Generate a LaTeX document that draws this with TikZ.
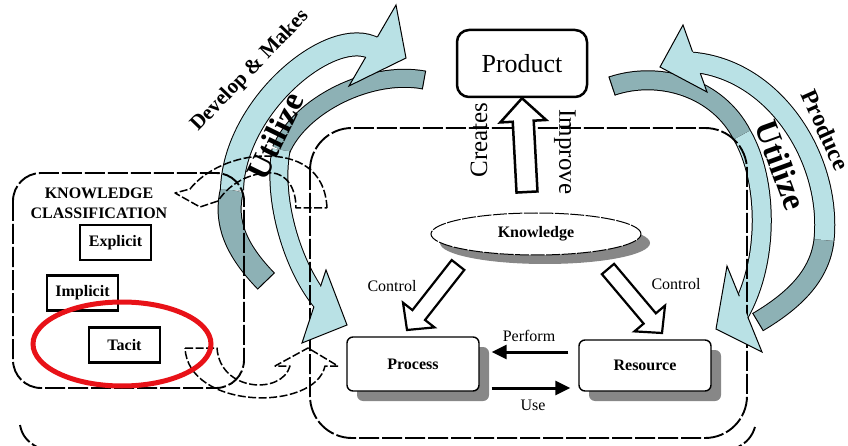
\documentclass[tikz,border=0pt]{standalone}
\usepackage{fontspec}
\setmainfont{Liberation Serif}
\usetikzlibrary{calc,arrows.meta,shapes.geometric,shadows}

\definecolor{bandlight}{RGB}{185,225,229}
\definecolor{banddark}{RGB}{141,177,181}
\definecolor{shade}{RGB}{135,135,135}
\definecolor{ring}{RGB}{232,18,24}

% hollow block arrow from #2 to its tip #3;
% #4 half shaft width, #5 half head width, #6 head length (pt)
\newcommand{\blockarrow}[6][]{%
  \draw[#1] let \p1=($(#3)-(#2)$), \n1={atan2(\y1,\x1)}, \n2={veclen(\x1,\y1)} in
    [shift={(#2)}, rotate=\n1]
    (0pt,-#4pt) -- ({\n2-#6pt},-#4pt) -- ({\n2-#6pt},-#5pt) -- ({\n2+0pt},0pt)
    -- ({\n2-#6pt},#5pt) -- ({\n2-#6pt},#4pt) -- (0pt,#4pt) -- cycle;
}

\begin{document}
\begin{tikzpicture}[x=1pt,y=-1pt,
  region/.style={draw, line width=1.9pt, dash pattern=on 20pt off 3pt},
  link/.style={draw, line width=1.5pt, dash pattern=on 8pt off 2.5pt, line join=round},
  lightband/.style={draw=black, line width=1pt, double=bandlight, double distance=#1, line cap=butt},
  darkband/.style={draw=black, line width=1pt, double=banddark, double distance=#1, line cap=butt},
  headline/.style={draw=black, line width=1pt, line join=miter},
  bandend/.style={draw=black, line width=1pt},
  classbox/.style={draw, line width=2.2pt, minimum width=71pt, minimum height=35pt,
    inner sep=0pt, font=\fontsize{16}{18}\selectfont\bfseries},
  unit/.style={draw, line width=1.4pt, rounded corners=6pt, fill=white, minimum width=132pt,
    inner sep=0pt, font=\fontsize{16}{18}\selectfont\bfseries,
    drop shadow={shadow xshift=10pt, shadow yshift=-10pt, fill=shade, opacity=1}},
  label/.style={font=\fontsize{16}{18}\selectfont},
  hollow/.style={draw, fill=white, line width=2.2pt, line join=miter},
  flow/.style={line width=3pt, -{Triangle[length=15pt,width=14pt]}},
  bigword/.style={font=\fontsize{33}{36}\selectfont\bfseries},
  arcword/.style={font=\fontsize{21}{24}\selectfont\bfseries},
]
\useasboundingbox (0,0) rectangle (848,446);
\clip (0,0) rectangle (848,446);

% ---- curved band arrows: bodies ----
% left: develop & makes (tail low, head top)
\draw[darkband=22pt] (266,281) .. controls (236,250) and (224,222) .. (232,190);
\draw[lightband=22pt] (232,190) .. controls (234,105) and (333,24) .. (375,49);
\draw[bandend] (274.6,272.7) -- (257.4,289.3);
% left: utilize (tail top, head low)
\draw[darkband=17pt] (424,80) .. controls (370,70) and (300,105) .. (281,150);
\draw[lightband=17pt] (281,150) .. controls (272,200) and (293,268) .. (322,302.5);
\draw[bandend] (425.7,70.7) -- (422.3,89.3);
% right: utilize (tail top, head low)
\draw[darkband=18pt] (612,86) .. controls (660,70) and (718,88) .. (742,135);
\draw[lightband=18pt] (742,135) .. controls (768,180) and (770,262) .. (738,316);
\draw[bandend] (615.2,95.5) -- (608.8,76.5);
% right: produce (tail low, head top)
\draw[darkband=19pt] (758,322) .. controls (795,300) and (820,275) .. (824,240);
\draw[lightband=19pt] (824,240) .. controls (832,160) and (775,68) .. (690,62);
\draw[bandend] (763.4,331) -- (752.6,313);

% ---- dashed regions ----
\draw[region, rounded corners=28pt] (13,173) rectangle (244,388);
\draw[region, rounded corners=42pt] (310,128) rectangle (747,438);
\draw[region] (20,425) .. controls (22,436) and (28,442) .. (37,447);
\draw[region] (755,427) .. controls (752,437) and (746,443) .. (738,447);

% ---- dashed curved links between the two regions ----
\draw[link] (327,208) .. controls (325,168) and (296,156) .. (266,156)
  .. controls (235,156) and (205,170) .. (190,189) -- (175,193) -- (200,207) -- (218,201)
  .. controls (232,180) and (255,172) .. (272,173)
  .. controls (288,174) and (296,190) .. (296,208) -- cycle;
\draw[link] (185,348) -- (217,348) .. controls (220,392) and (282,395) .. (290,366)
  -- (275,366) -- (308,348) -- (338,366) -- (325,366)
  .. controls (315,412) and (188,410) .. (185,348) -- cycle;

% ---- curved band arrows: heads ----
\fill[bandlight] (396,5) -- (406,58) -- (349,86) -- cycle;
\draw[headline] (377.4,37) -- (396,5) -- (406,58) -- (349,86) -- (365.8,57);
\fill[bandlight] (326,270) -- (347,325) -- (302,343) -- cycle;
\draw[headline] (320.5,286.5) -- (326,270) -- (347,325) -- (302,343) -- (314,306.5);
\fill[bandlight] (727,266) -- (716,329) -- (762,352) -- cycle;
\draw[headline] (739.3,296.2) -- (727,266) -- (716,329) -- (762,352) -- (747.8,317.1);
\fill[bandlight] (683,25) -- (660,67) -- (707,92) -- cycle;
\draw[headline] (692.5,51.6) -- (683,25) -- (660,67) -- (707,92) -- (700.3,73.3);

% ---- knowledge classification ----
\node[font=\fontsize{16}{20}\selectfont\bfseries, align=center] (kc) at (99,203)
  {KNOWLEDGE\\CLASSIFICATION};
\node[classbox] (expl) at (115.5,242.5) {Explicit};
\node[classbox] (impl) at (82.5,293) {Implicit};
\node[classbox] (tac) at (124.5,345) {Tacit};
\draw[ring, line width=5pt] (122,344) ellipse [x radius=89pt, y radius=42pt];

% ---- process area ----
\node[draw, line width=2.5pt, rounded corners=12pt, minimum width=130pt, minimum height=67pt,
  font=\fontsize{26}{30}\selectfont] (prod) at (522,63.5) {Product};
\node[ellipse, draw, line width=1pt, dash pattern=on 14pt off 1.5pt, fill=white,
  minimum width=210pt, minimum height=42pt, inner sep=0pt,
  font=\fontsize{16}{18}\selectfont\bfseries,
  drop shadow={shadow xshift=9pt, shadow yshift=-9pt, fill=shade, opacity=1}]
  (know) at (536,234) {Knowledge};
\node[unit, minimum height=54pt] (proc) at (413,364) {Process};
\node[unit, minimum height=51pt] (res) at (645,365.5) {Resource};

\coordinate (k1a) at (458,265);
\coordinate (k1b) at (407,330);
\coordinate (k2a) at (608,269);
\coordinate (k2b) at (662,333);
\coordinate (pa) at (527,192);
\blockarrow[hollow]{k1a}{k1b}{8}{20}{19}
\blockarrow[hollow]{k2a}{k2b}{8}{20}{19}
\blockarrow[hollow, line width=2.5pt]{pa}{prod.south}{10.5}{23}{23}

\draw[flow] ($(res.west)+(-10,-13.5)$) -- ($(proc.east)+(12,-12)$);
\draw[flow] ($(proc.east)+(12,24)$) -- ($(res.west)+(-8,22.5)$);

% ---- labels ----
\node[font=\fontsize{25}{28}\selectfont, rotate=90] at (479,140) {Creates};
\node[font=\fontsize{25}{28}\selectfont, rotate=-90] at (565,152) {Improve};
\node[label] at (392,286) {Control};
\node[label] at (676,284) {Control};
\node[label] at (529,336) {Perform};
\node[label] at (533,405) {Use};
\node[bigword, rotate=64] at (275,136) {Utilize};
\node[bigword, rotate=-70] at (781,165) {Utilize};
\node[arcword, rotate=46] at (250,71) {Develop \& Makes};
\node[font=\fontsize{24}{26}\selectfont\bfseries, rotate=-66, anchor=west] at (807,88) {Produce};
\end{tikzpicture}
\end{document}
